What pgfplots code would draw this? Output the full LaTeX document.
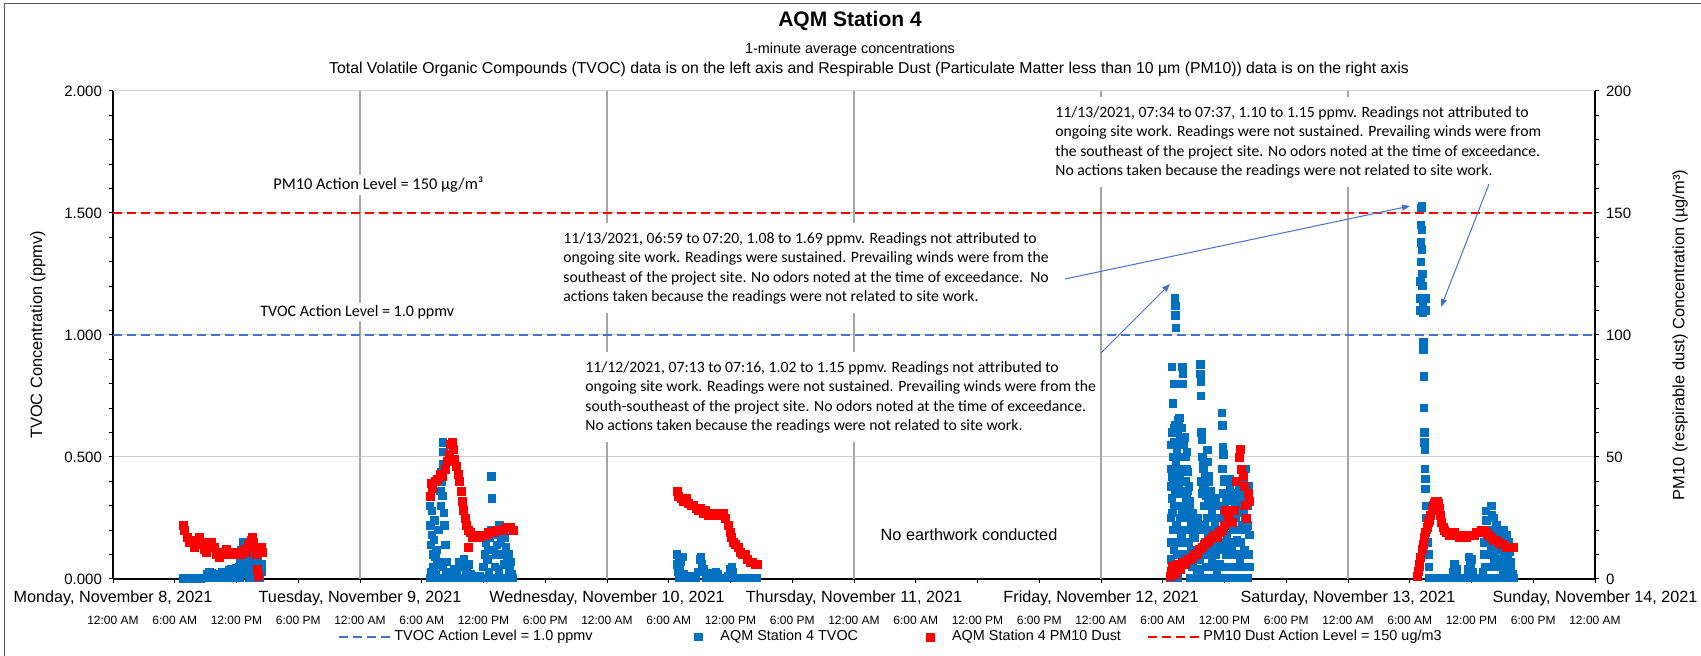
\documentclass[border=0pt]{standalone}
\usepackage{fontspec}
\setmainfont{Liberation Sans}
\newfontfamily\calib{Carlito}
\usepackage{pgfplots}
\pgfplotsset{compat=1.18}
\usetikzlibrary{arrows.meta}
\definecolor{tvocblue}{HTML}{0070C0}
\definecolor{pmred}{HTML}{FF0000}
\definecolor{dashblue}{HTML}{4472C4}
\definecolor{arrowblue}{HTML}{4472C4}
\definecolor{vgrid}{HTML}{A6A6A6}
\definecolor{hgrid}{HTML}{D0D0D0}
\definecolor{frame}{HTML}{595959}
\pgfplotsset{
  lineleg/.style={legend image code/.code={\draw[##1] (0pt,0pt) -- (26pt,0pt);}},
  markleg/.style={legend image code/.code={\path[draw=none,fill=none] (-10pt,-2pt) -- (10pt,2pt); \draw[##1] plot coordinates {(0pt,0pt)};}},
}

\begin{document}
\begin{tikzpicture}[x=0.5pt,y=0.5pt]
\useasboundingbox (0,0) rectangle (1701,656);
\draw[line width=0.5pt, frame] (4,0) -- (4,652) -- (1701,652);

\node[font=\bfseries\fontsize{10.5}{12}\selectfont] at (850,635) {AQM Station 4};
\node[font=\fontsize{7.2}{9}\selectfont] at (850,606) {1-minute average concentrations};
\node[font=\fontsize{7.9}{9}\selectfont] at (869,587) {Total Volatile Organic Compounds (TVOC) data is on the left axis and Respirable Dust (Particulate Matter less than 10 µm (PM10)) data is on the right axis};

\begin{axis}[
  at={(56.5pt,38.5pt)}, anchor=south west, scale only axis,
  width=741pt, height=244pt,
  xmin=0, xmax=6, ymin=0, ymax=2,
  clip=false,
  axis x line*=bottom, axis y line*=left,
  axis line style={black, line width=0.6pt},
  tick align=outside, major tick length=2pt, minor tick length=2pt,
  tick style={black, line width=0.5pt},
  ytick={0,0.5,1,1.5,2}, minor ytick={0.1,0.2,0.3,0.4,0.6,0.7,0.8,0.9,1.1,1.2,1.3,1.4,1.6,1.7,1.8,1.9},
  ymajorgrids, major grid style={hgrid, line width=0.5pt},
  yticklabel style={font=\fontsize{7.5}{9}\selectfont, /pgf/number format/.cd, fixed, fixed zerofill, precision=3, assume math mode=true},
  xtick={0,0.25,0.5,0.75,1,1.25,1.5,1.75,2,2.25,2.5,2.75,3,3.25,3.5,3.75,4,4.25,4.5,4.75,5,5.25,5.5,5.75,6},
  xticklabels={12:00 AM,6:00 AM,12:00 PM,6:00 PM,12:00 AM,6:00 AM,12:00 PM,6:00 PM,12:00 AM,6:00 AM,12:00 PM,6:00 PM,12:00 AM,6:00 AM,12:00 PM,6:00 PM,12:00 AM,6:00 AM,12:00 PM,6:00 PM,12:00 AM,6:00 AM,12:00 PM,6:00 PM,12:00 AM},
  xticklabel style={font=\fontsize{6}{7}\selectfont, yshift=-13pt},
  extra x ticks={1,2,3,4,5},
  extra x tick labels={\empty,\empty,\empty,\empty,\empty},
  extra x tick style={grid=major, major grid style={vgrid, line width=0.6pt}},
]
\addplot[dashblue, dash pattern=on 4.5pt off 2.5pt, line width=1.2pt] coordinates {(0,1) (6,1)};
\addplot[only marks, mark=square*, mark size=1.85pt, color=tvocblue] coordinates {
(0.283,0.003)(0.29,0.004)(0.297,0.003)(0.305,0.004)(0.312,0.003)(0.32,0.004)(0.327,0.003)(0.335,0.004)(0.342,0.003)(0.35,0.004)(0.357,0.003)(0.365,0.005)(0.372,0.004)(0.38,0.02)(0.385,0.005)(0.39,0.03)(0.395,0.01)(0.40,0.025)(0.405,0.005)(0.41,0.01)(0.415,0.005)(0.42,0.015)(0.425,0.005)(0.43,0.02)(0.435,0.005)(0.44,0.03)(0.445,0.01)(0.45,0.02)(0.455,0.005)(0.46,0.025)(0.465,0.01)(0.47,0.035)(0.475,0.005)(0.48,0.04)(0.485,0.02)(0.49,0.03)(0.495,0.005)(0.50,0.045)(0.505,0.02)(0.51,0.05)(0.513,0.005)(0.515,0.08)(0.52,0.12)(0.523,0.04)(0.525,0.15)(0.53,0.13)(0.533,0.06)(0.535,0.1)(0.54,0.07)(0.543,0.02)(0.545,0.05)(0.55,0.09)(0.553,0.005)(0.555,0.08)(0.56,0.06)(0.565,0.03)(0.57,0.02)(0.573,0.005)(0.575,0.1)(0.58,0.12)(0.583,0.04)(0.585,0.08)(0.59,0.05)(0.593,0.005)(0.595,0.02)(0.60,0.06)(0.603,0.03)
(1.283,0.30)(1.284,0.005)(1.285,0.22)(1.287,0.14)(1.289,0.03)(1.29,0.28)(1.292,0.18)(1.294,0.005)(1.295,0.10)(1.297,0.05)(1.30,0.16)(1.302,0.24)(1.304,0.005)(1.305,0.09)(1.308,0.02)(1.31,0.12)(1.312,0.06)(1.315,0.005)(1.318,0.2)(1.32,0.07)(1.322,0.005)(1.325,0.36)(1.327,0.3)(1.329,0.005)(1.33,0.44)(1.332,0.40)(1.334,0.34)(1.335,0.05)(1.336,0.56)(1.337,0.52)(1.338,0.47)(1.34,0.27)(1.342,0.22)(1.345,0.14)(1.347,0.005)(1.35,0.03)(1.352,0.07)(1.355,0.005)(1.36,0.005)(1.365,0.01)(1.37,0.005)(1.375,0.03)(1.38,0.04)(1.385,0.005)(1.39,0.02)(1.395,0.005)(1.40,0.07)(1.405,0.005)(1.41,0.05)(1.415,0.005)(1.42,0.08)(1.425,0.005)(1.43,0.03)(1.435,0.005)(1.44,0.06)(1.445,0.005)(1.45,0.02)(1.455,0.005)(1.46,0.005)(1.465,0.01)(1.47,0.005)(1.475,0.005)(1.48,0.005)(1.485,0.01)(1.49,0.005)(1.495,0.005)(1.50,0.05)(1.503,0.005)(1.505,0.1)(1.51,0.15)(1.513,0.005)(1.515,0.08)(1.52,0.12)(1.523,0.03)(1.525,0.17)(1.53,0.2)(1.532,0.42)(1.534,0.33)(1.536,0.005)(1.54,0.12)(1.545,0.05)(1.55,0.1)(1.553,0.005)(1.555,0.14)(1.56,0.18)(1.563,0.04)(1.565,0.22)(1.57,0.15)(1.573,0.005)(1.575,0.1)(1.58,0.2)(1.583,0.06)(1.585,0.17)(1.59,0.13)(1.593,0.005)(1.595,0.08)(1.60,0.1)(1.603,0.005)(1.605,0.04)(1.61,0.07)(1.613,0.005)(1.615,0.02)(1.62,0.005)
(2.283,0.1)(2.285,0.06)(2.288,0.03)(2.29,0.08)(2.293,0.005)(2.295,0.04)(2.30,0.07)(2.305,0.09)(2.31,0.02)(2.315,0.005)(2.32,0.01)(2.33,0.005)(2.34,0.005)(2.35,0.01)(2.36,0.005)(2.37,0.03)(2.375,0.08)(2.38,0.09)(2.385,0.06)(2.39,0.04)(2.40,0.005)(2.41,0.02)(2.42,0.025)(2.43,0.005)(2.44,0.03)(2.45,0.02)(2.46,0.005)(2.47,0.005)(2.48,0.005)(2.49,0.01)(2.50,0.04)(2.505,0.05)(2.51,0.03)(2.52,0.005)(2.53,0.005)(2.54,0.005)(2.55,0.005)(2.56,0.005)(2.57,0.005)(2.58,0.005)(2.59,0.005)(2.60,0.005)(2.607,0.005)
(4.28,0.005)(4.283,0.25)(4.285,0.45)(4.286,0.6)(4.287,0.87)(4.288,0.33)(4.29,0.5)(4.291,0.2)(4.292,0.72)(4.293,0.4)(4.295,0.56)(4.296,0.3)(4.297,0.8)(4.298,0.63)(4.299,0.05)(4.300,1.15)(4.301,1.12)(4.302,1.08)(4.303,1.03)(4.304,0.48)(4.305,0.36)(4.306,0.22)(4.307,0.52)(4.308,0.1)(4.309,0.005)
(4.31,0.6)(4.312,0.45)(4.314,0.3)(4.316,0.55)(4.318,0.66)(4.32,0.4)(4.322,0.25)(4.324,0.5)(4.326,0.35)(4.328,0.62)(4.33,0.87)(4.331,0.84)(4.332,0.8)(4.334,0.45)(4.336,0.3)(4.338,0.58)(4.34,0.2)(4.342,0.4)(4.344,0.15)(4.346,0.33)(4.348,0.52)(4.35,0.25)(4.352,0.1)(4.355,0.38)(4.358,0.2)(4.36,0.3)(4.362,0.005)(4.365,0.12)(4.368,0.25)
(4.37,0.05)(4.373,0.27)(4.376,0.005)(4.379,0.17)(4.382,0.1)(4.385,0.005)(4.388,0.22)(4.391,0.04)(4.394,0.005)(4.397,0.12)(4.40,0.02)
(4.402,0.88)(4.403,0.84)(4.404,0.81)(4.405,0.75)(4.407,0.6)(4.408,0.57)(4.41,0.5)(4.412,0.47)(4.414,0.38)(4.416,0.3)(4.418,0.22)(4.42,0.005)(4.422,0.15)(4.424,0.34)(4.426,0.05)(4.428,0.25)(4.43,0.53)(4.432,0.48)(4.434,0.42)(4.436,0.12)(4.438,0.3)(4.44,0.005)(4.442,0.2)(4.445,0.36)(4.448,0.08)(4.45,0.27)(4.453,0.15)(4.456,0.005)(4.46,0.22)(4.463,0.1)(4.466,0.33)(4.47,0.04)
(4.473,0.2)(4.476,0.005)(4.479,0.12)(4.482,0.06)(4.486,0.005)(4.49,0.68)(4.492,0.63)(4.494,0.54)(4.496,0.51)(4.498,0.41)(4.50,0.4)(4.502,0.3)(4.504,0.22)(4.506,0.1)(4.508,0.005)(4.51,0.35)(4.513,0.15)(4.516,0.25)(4.52,0.41)
(4.522,0.38)(4.525,0.005)(4.528,0.28)(4.531,0.12)(4.534,0.2)(4.537,0.32)(4.54,0.005)(4.543,0.1)(4.546,0.25)(4.55,0.16)(4.553,0.005)(4.556,0.3)(4.56,0.2)(4.563,0.08)(4.566,0.35)(4.57,0.22)(4.573,0.005)(4.576,0.27)(4.58,0.12)(4.583,0.33)(4.586,0.45)(4.589,0.2)(4.592,0.005)(4.595,0.3)(4.598,0.1)(4.60,0.18)
(4.282,0.38)(4.282,0.15)(4.284,0.55)(4.284,0.08)(4.289,0.42)(4.289,0.27)(4.294,0.62)(4.294,0.12)(4.298,0.35)(4.305,0.6)(4.311,0.5)(4.311,0.2)(4.313,0.65)(4.313,0.38)(4.317,0.42)(4.317,0.15)(4.319,0.3)(4.321,0.58)(4.321,0.1)(4.325,0.45)(4.325,0.18)(4.327,0.28)(4.329,0.4)(4.333,0.55)(4.333,0.2)(4.337,0.4)(4.337,0.1)(4.339,0.28)(4.341,0.5)(4.343,0.3)(4.345,0.45)(4.347,0.2)(4.349,0.36)(4.351,0.44)(4.353,0.28)(4.357,0.15)(4.359,0.32)(4.363,0.22)(4.367,0.08)(4.371,0.18)(4.375,0.1)(4.381,0.2)(4.387,0.12)(4.393,0.25)(4.399,0.08)
(4.406,0.4)(4.409,0.2)(4.411,0.35)(4.413,0.1)(4.415,0.45)(4.417,0.12)(4.419,0.38)(4.421,0.3)(4.423,0.42)(4.425,0.2)(4.427,0.4)(4.429,0.12)(4.431,0.25)(4.433,0.18)(4.435,0.32)(4.437,0.4)(4.439,0.15)(4.441,0.35)(4.444,0.1)(4.447,0.3)(4.451,0.05)(4.455,0.25)(4.458,0.12)(4.462,0.3)(4.465,0.15)(4.468,0.2)(4.478,0.25)(4.484,0.15)(4.489,0.3)(4.491,0.45)(4.493,0.35)(4.495,0.2)(4.497,0.28)(4.499,0.15)(4.501,0.05)(4.503,0.12)(4.505,0.25)(4.507,0.32)(4.509,0.18)(4.512,0.28)(4.515,0.05)(4.518,0.32)(4.521,0.15)(4.524,0.25)(4.527,0.1)(4.53,0.35)(4.533,0.05)(4.536,0.15)(4.539,0.25)(4.542,0.3)(4.545,0.05)(4.548,0.35)(4.551,0.1)(4.555,0.15)(4.558,0.38)(4.561,0.05)(4.565,0.15)(4.568,0.05)(4.572,0.32)(4.575,0.1)(4.578,0.4)(4.581,0.05)(4.585,0.25)(4.588,0.35)(4.591,0.1)(4.594,0.22)(4.597,0.38)(4.6,0.05)
(5.29,0.05)(5.291,1.10)(5.292,1.15)(5.293,1.22)(5.294,1.30)(5.295,1.38)(5.296,1.45)(5.297,1.52)(5.298,1.53)(5.299,1.43)(5.30,1.35)(5.301,1.25)(5.302,1.20)(5.303,1.12)(5.304,1.09)(5.305,0.97)(5.306,0.94)(5.307,0.83)(5.308,0.70)(5.309,0.60)(5.31,0.56)(5.311,0.53)(5.312,0.45)(5.313,0.41)(5.314,0.37)(5.315,1.10)(5.316,1.15)(5.317,0.30)(5.318,0.25)(5.32,0.2)(5.322,0.15)(5.325,0.1)(5.327,0.05)(5.33,0.005)
(5.34,0.005)(5.35,0.005)(5.36,0.005)(5.37,0.005)(5.38,0.005)(5.39,0.005)(5.40,0.005)(5.41,0.005)(5.42,0.005)(5.425,0.03)(5.43,0.06)(5.435,0.02)(5.44,0.04)(5.445,0.005)(5.45,0.005)(5.46,0.005)(5.47,0.005)(5.48,0.005)(5.485,0.04)(5.49,0.09)(5.495,0.06)(5.50,0.08)(5.505,0.03)(5.51,0.005)(5.52,0.005)(5.53,0.005)(5.54,0.005)(5.545,0.03)(5.55,0.1)(5.555,0.2)(5.558,0.28)(5.56,0.24)(5.565,0.15)(5.57,0.05)(5.575,0.005)(5.58,0.3)(5.582,0.26)(5.585,0.2)(5.59,0.15)(5.595,0.1)(5.60,0.22)(5.605,0.18)(5.61,0.05)(5.615,0.12)(5.62,0.08)(5.625,0.15)(5.63,0.1)(5.635,0.05)(5.64,0.13)(5.645,0.09)(5.65,0.06)(5.655,0.11)(5.66,0.04)(5.665,0.02)(5.67,0.005)(5.585,0.005)(5.595,0.005)(5.605,0.005)(5.615,0.005)(5.625,0.005)(5.635,0.005)(5.645,0.005)(5.655,0.005)(5.565,0.005)(5.555,0.005)
(5.552,0.15)(5.557,0.05)(5.562,0.18)(5.568,0.1)(5.578,0.12)(5.583,0.05)(5.588,0.25)(5.592,0.08)(5.598,0.18)(5.602,0.12)(5.607,0.08)(5.612,0.2)(5.618,0.05)(5.622,0.18)(5.628,0.04)(5.632,0.2)(5.638,0.08)(5.642,0.18)(5.648,0.03)(5.652,0.15)(5.658,0.07)
};
\end{axis}

\begin{axis}[
  at={(56.5pt,38.5pt)}, anchor=south west, scale only axis,
  width=741pt, height=244pt,
  xmin=0, xmax=6, ymin=0, ymax=200,
  clip=false,
  axis x line=none, axis y line*=right,
  axis line style={black, line width=0.6pt},
  tick align=outside, major tick length=2pt, minor tick length=2pt,
  tick style={black, line width=0.5pt},
  ytick={0,50,100,150,200}, minor ytick={10,20,30,40,60,70,80,90,110,120,130,140,160,170,180,190},
  yticklabel style={font=\fontsize{7.5}{9}\selectfont, /pgf/number format/assume math mode=true},
  legend columns=4,
  legend cell align=left,
  legend style={at={(axis description cs:0,0)}, anchor=west, xshift=112.5pt, yshift=-29pt,
    draw=none, fill=none, inner sep=0pt, outer sep=0pt,
    font=\fontsize{7.2}{9}\selectfont,
    nodes={inner sep=1pt},
    /tikz/every even column/.append style={column sep=0pt}},
]
\addlegendimage{dashblue, dash pattern=on 4.5pt off 2.5pt, line width=1.2pt, lineleg}
\addlegendentry{TVOC Action Level = 1.0 ppmv\rule{42pt}{0pt}}
\addlegendimage{only marks, mark=square*, mark size=1.85pt, color=tvocblue, markleg}
\addlegendentry{AQM Station 4 TVOC\rule{25pt}{0pt}}
\addplot[only marks, mark=square*, mark size=2pt, color=pmred, markleg] coordinates {
(0.283,22)(0.29,20)(0.30,17)(0.31,15)(0.32,16)(0.33,13)(0.34,14)(0.35,17)(0.36,15)(0.37,12)(0.38,11)(0.39,14)(0.40,15)(0.41,13)(0.42,10)(0.43,9)(0.44,11)(0.45,10)(0.46,12)(0.47,11)(0.48,10)(0.49,10)(0.50,11)(0.51,10)(0.52,10)(0.53,12)(0.54,11)(0.55,14)(0.56,16)(0.565,17)(0.57,15)(0.575,13)(0.58,10)(0.585,4)(0.59,1)(0.595,12)(0.60,13)(0.603,11)
(1.283,34)(1.288,39)(1.295,37)(1.305,40)(1.315,41)(1.325,43)(1.335,42)(1.345,45)(1.355,48)(1.362,51)(1.368,55)(1.373,56)(1.378,53)(1.383,49)(1.39,46)(1.397,43)(1.403,40)(1.41,36)(1.415,32)(1.42,28)(1.425,25)(1.43,22)(1.437,20)(1.437,13)(1.445,19)(1.455,17)(1.465,17)(1.475,18)(1.485,17)(1.50,18)(1.51,18)(1.52,19)(1.53,19)(1.54,19)(1.55,20)(1.56,20)(1.57,20)(1.58,20)(1.59,21)(1.60,21)(1.61,21)(1.62,20)
(2.283,36)(2.29,34)(2.30,33)(2.31,32)(2.32,33)(2.33,31)(2.34,30)(2.35,30)(2.36,29)(2.37,28)(2.38,29)(2.39,27)(2.40,28)(2.41,26)(2.42,27)(2.43,26)(2.44,27)(2.45,26)(2.46,27)(2.47,27)(2.48,25)(2.49,22)(2.50,19)(2.505,17)(2.51,15)(2.52,14)(2.53,13)(2.54,11)(2.55,10)(2.56,10)(2.57,8)(2.58,7)(2.59,7)(2.60,6)(2.607,6)
(4.279,1)(4.283,3)(4.29,5)(4.30,2)(4.31,6)(4.32,4)(4.33,7)(4.34,6)(4.35,8)(4.36,8)(4.37,9)(4.38,10)(4.39,10)(4.40,12)(4.41,13)(4.42,14)(4.43,15)(4.44,16)(4.45,17)(4.46,18)(4.47,17)(4.48,19)(4.49,20)(4.50,22)(4.505,28)(4.51,27)(4.515,26)(4.52,24)(4.53,23)(4.54,28)(4.55,40)(4.56,50)(4.565,53)(4.57,45)(4.575,42)(4.58,38)(4.585,30)(4.59,25)(4.595,35)(4.60,32)
(5.28,1)(5.285,3)(5.29,6)(5.295,9)(5.30,12)(5.305,14)(5.31,17)(5.315,19)(5.32,21)(5.325,23)(5.33,24)(5.335,26)(5.34,28)(5.345,30)(5.35,31)(5.355,32)(5.36,32)(5.365,31)(5.37,29)(5.375,26)(5.38,23)(5.385,21)(5.39,20)(5.40,19)(5.41,18)(5.42,19)(5.43,19)(5.44,18)(5.45,17)(5.46,17)(5.47,18)(5.48,17)(5.49,18)(5.50,18)(5.51,18)(5.52,19)(5.53,19)(5.54,20)(5.55,20)(5.56,19)(5.57,18)(5.58,17)(5.59,16)(5.60,16)(5.61,15)(5.62,14)(5.63,14)(5.64,13)(5.65,13)(5.66,13)(5.67,13)
};
\addlegendentry{AQM Station 4 PM10 Dust\rule{12pt}{0pt}}
\addplot[pmred, dash pattern=on 4.5pt off 2.5pt, line width=1.2pt, lineleg] coordinates {(0,150) (6,150)};
\addlegendentry{PM10 Dust Action Level = 150 ug/m3}
\end{axis}

% day labels
\begin{scope}[font=\fontsize{8.1}{10}\selectfont]
\node at (113,58) {Monday, November 8, 2021};
\node at (360,58) {Tuesday, November 9, 2021};
\node at (607,58) {Wednesday, November 10, 2021};
\node at (854,58) {Thursday, November 11, 2021};
\node at (1101,58) {Friday, November 12, 2021};
\node at (1348,58) {Saturday, November 13, 2021};
\node at (1595,58) {Sunday, November 14, 2021};
\end{scope}

% axis titles
\node[rotate=90, font=\fontsize{8.2}{9}\selectfont] at (38,321) {TVOC Concentration (ppmv)};
\node[rotate=90, font=\fontsize{8.2}{9}\selectfont] at (1680,321) {PM10 (respirable dust) Concentration (µg/m³)};

% in-plot labels
\node[font=\fontsize{8.15}{9}\selectfont] at (969,121) {No earthwork conducted};
\node[anchor=west, fill=white, inner sep=1pt, font=\calib\fontsize{8.2}{10}\selectfont] at (271,471) {PM10 Action Level = 150 µg/m³};
\node[anchor=west, fill=white, inner sep=1pt, font=\calib\fontsize{8}{10}\selectfont] at (258,344) {TVOC Action Level = 1.0 ppmv};

\begin{scope}[every node/.style={anchor=north west, fill=white, inner xsep=1.5pt, inner ysep=4.5pt, align=left, font=\calib\fontsize{7.85}{9.7}\selectfont}]
\node at (1052,559) {11/13/2021, 07:34 to 07:37, 1.10 to 1.15 ppmv. Readings not attributed to\\ongoing site work. Readings were not sustained. Prevailing winds were from\\the southeast of the project site. No odors noted at the time of exceedance.\\No actions taken because the readings were not related to site work.};
\node at (560,433) {11/13/2021, 06:59 to 07:20, 1.08 to 1.69 ppmv. Readings not attributed to\\ongoing site work. Readings were sustained. Prevailing winds were from the\\southeast of the project site. No odors noted at the time of exceedance.\ \ No\\actions taken because the readings were not related to site work.};
\node at (582,304) {11/12/2021, 07:13 to 07:16, 1.02 to 1.15 ppmv. Readings not attributed to\\ongoing site work. Readings were not sustained. Prevailing winds were from the\\south-southeast of the project site. No odors noted at the time of exceedance.\\No actions taken because the readings were not related to site work.};
\end{scope}

\begin{scope}[arrowblue, line width=0.5pt, -{Triangle[length=4pt,width=3pt]}]
\draw (1065,377) -- (1410,450);
\draw (1489,472) -- (1441,349);
\draw (1101,303) -- (1170,372);
\end{scope}
\end{tikzpicture}
\end{document}
